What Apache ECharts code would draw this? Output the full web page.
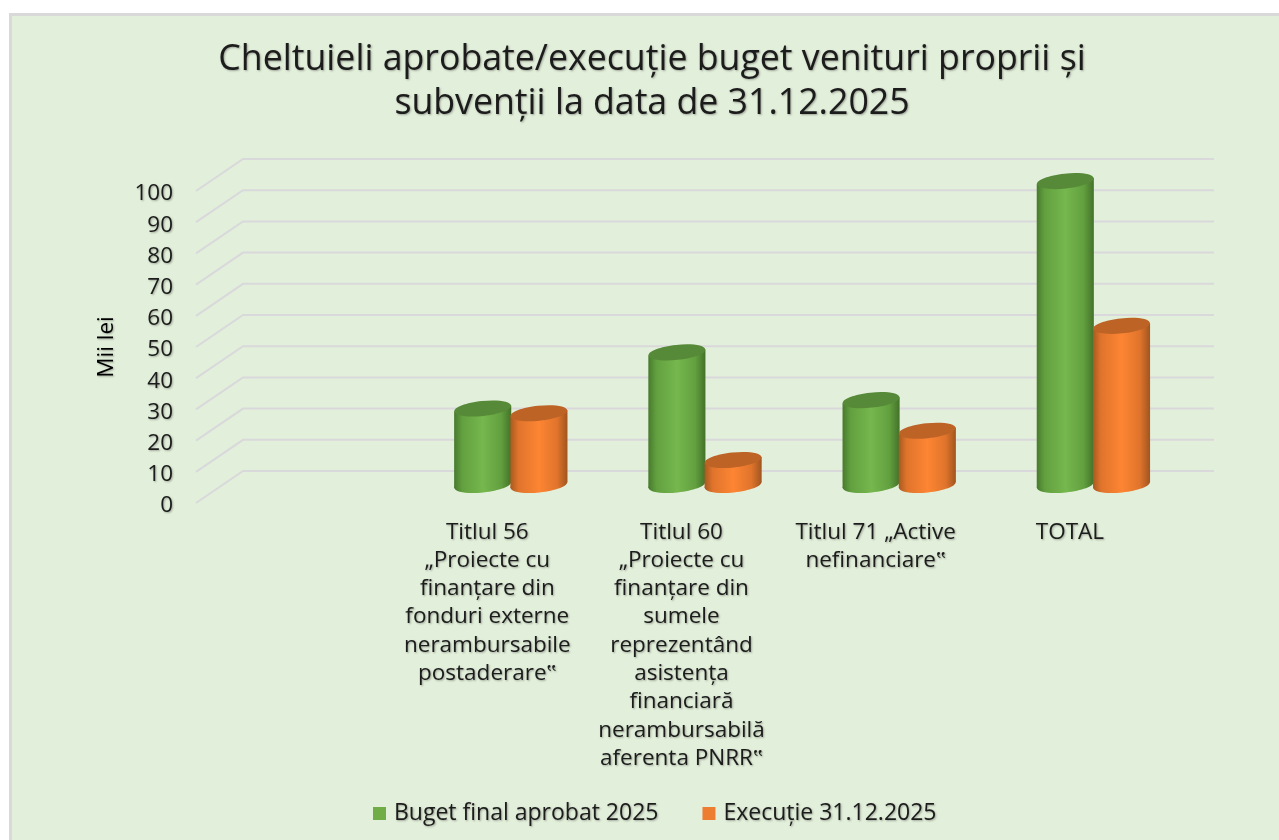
<!DOCTYPE html>
<html><head><meta charset="utf-8">
<style>html,body{margin:0;padding:0;background:#fff}#c{width:1279px;height:840px}</style>
<script src="https://cdn.jsdelivr.net/npm/echarts@6/dist/echarts.min.js"></script>
</head><body><div id="c"></div>
<script>
const titleText = 'Cheltuieli aprobate/execuție buget venituri proprii și\nsubvenții la data de 31.12.2025';
const categories = ['',
 'Titlul 56\n„Proiecte cu\nfinanțare din\nfonduri externe\nnerambursabile\npostaderare‟',
 'Titlul 60\n„Proiecte cu\nfinanțare din\nsumele\nreprezentând\nasistența\nfinanciară\nnerambursabilă\naferenta PNRR‟',
 'Titlul 71 „Active\nnefinanciare‟',
 'TOTAL'];
const budgetName = 'Buget final aprobat 2025';
const executionName = 'Execuție 31.12.2025';
const budgetValues = [null, 24.5, 42.5, 27.2, 97.4];
const executionValues = [null, 23, 8, 17.4, 51];
const yTicks = [0,10,20,30,40,50,60,70,80,90,100];
const axisName = 'Mii lei';

const FONT = 'Open Sans';
const TEXT = '#1c1c1c';
const shadow = {textShadowColor:'rgba(0,0,0,0.3)',textShadowBlur:2,textShadowOffsetX:1,textShadowOffsetY:1};
const DEPTH_X = 47, DEPTH_Y = 32;

function gridRenderer(params, api){
  const y = api.coord([0, api.value(1)])[1];
  const g = params.coordSys;
  return {type:'polyline', silent:true,
    shape:{points:[[g.x,y],[g.x+DEPTH_X,y-DEPTH_Y],[g.x+g.width+DEPTH_X,y-DEPTH_Y]]},
    style:{stroke:'#d9d9dc',lineWidth:2,fill:null}};
}
function cylinder(side, palette){
  return function(params, api){
    const v = api.value(1);
    if (v == null || isNaN(v)) return null;
    const idx = api.value(0);
    const band = api.size([1,0])[0];
    const w = band*0.294, rx = w/2, ry = 7.5, tilt = 3;
    const top = api.coord([idx, v]), base = api.coord([idx, 0]);
    const cx = top[0] + 23.5 + side*rx*0.985;
    const yT = top[1]-18, yB = base[1]-18;
    const body = {type:'linear',x:0,y:0,x2:1,y2:0,colorStops:[
      {offset:0,color:palette.edgeL},{offset:0.14,color:palette.mid1},
      {offset:0.5,color:palette.main},{offset:0.82,color:palette.mid1},{offset:1,color:palette.edgeR}]};
    const ell = (cy,fill)=>({type:'ellipse',shape:{cx:cx,cy:cy,rx:rx,ry:ry},
      rotation:0.105,originX:cx,originY:cy,style:{fill:fill}});
    return {type:'group',children:[
      ell(yB,body),
      {type:'polygon',shape:{points:[[cx-rx,yT+tilt],[cx+rx,yT-tilt],[cx+rx,yB-tilt],[cx-rx,yB+tilt]]},style:{fill:body}},
      ell(yT,palette.cap)
    ]};
  };
}
const green = {edgeL:'#487a2e',mid1:'#62a03f',main:'#76b74e',edgeR:'#447229',cap:'#578a38'};
const orange = {edgeL:'#a85a20',mid1:'#e0742c',main:'#fd8533',edgeR:'#a0551f',cap:'#bd6326'};

const chart = echarts.init(document.getElementById('c'), null, {renderer:'canvas'});
chart.setOption({
  animation:false,
  backgroundColor:'#ffffff',
  graphic:[{type:'rect',z:-10,silent:true,shape:{x:10.5,y:14.5,width:1280,height:840},
    style:{fill:'#e2efda',stroke:'#d9d9d9',lineWidth:3}}],
  title:{text:titleText,left:647,top:33,textAlign:'center',
    textStyle:Object.assign({fontFamily:FONT,fontSize:35.7,fontWeight:'normal',color:TEXT,lineHeight:44},shadow)},
  legend:{data:[budgetName,executionName],left:373,top:802,padding:0,icon:'rect',itemWidth:13,itemHeight:13,itemGap:44,
    textStyle:Object.assign({fontFamily:FONT,fontSize:23,color:TEXT,padding:[0,0,0,3]},shadow)},
  grid:{left:196,top:191,width:971,height:312},
  xAxis:{type:'category',data:categories,axisLine:{show:false},axisTick:{show:false},
    axisLabel:{interval:0,margin:15,fontFamily:FONT,fontSize:22.5,lineHeight:28.3,color:TEXT,align:'center',verticalAlign:'top',
      textShadowColor:shadow.textShadowColor,textShadowBlur:2,textShadowOffsetX:1,textShadowOffsetY:1}},
  yAxis:{type:'value',min:0,max:100,interval:10,name:axisName,nameLocation:'middle',nameGap:78,nameRotate:90,
    nameTextStyle:Object.assign({fontFamily:FONT,fontSize:22.5,color:'#000'},shadow),
    axisLine:{show:false},axisTick:{show:false},splitLine:{show:false},
    axisLabel:{margin:23,formatter:'{t|{value}}',
      rich:{t:Object.assign({fontFamily:FONT,fontSize:22.5,color:TEXT,padding:[6,0,0,0]},shadow)}}},
  series:[
    {type:'custom',name:'grid',silent:true,z:1,clip:false,renderItem:gridRenderer,encode:{x:0,y:1},
      data:yTicks.map(t=>[0,t])},
    {type:'custom',name:budgetName,z:3,clip:false,itemStyle:{color:'#70ad47'},renderItem:cylinder(-1,green),encode:{x:0,y:1},
      data:budgetValues.map((v,i)=>[i,v])},
    {type:'custom',name:executionName,z:4,clip:false,itemStyle:{color:'#ed7d31'},renderItem:cylinder(1,orange),encode:{x:0,y:1},
      data:executionValues.map((v,i)=>[i,v])}
  ]
});
</script></body></html>
